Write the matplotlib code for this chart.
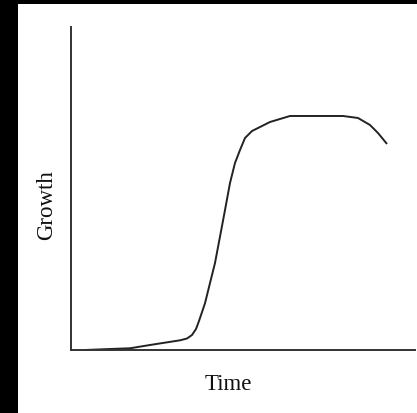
import matplotlib
matplotlib.use("Agg")
import matplotlib.pyplot as plt
from matplotlib.patches import Rectangle

# Data (time and growth in arbitrary units, 0-100)
time = [4.07, 11.34, 17.15, 22.97, 31.69, 33.72, 35.17, 36.34, 37.21, 38.95,
        40.41, 41.86, 43.31, 44.77, 46.22, 47.67, 49.13, 50.58, 52.62, 57.85,
        63.66, 79.07, 83.43, 86.92, 89.24, 91.86]
growth = [0.0, 0.31, 0.53, 1.55, 3.0, 3.56, 4.64, 6.50, 8.98, 14.46,
          20.74, 26.93, 35.08, 43.34, 51.70, 57.89, 61.92, 65.63, 67.80, 70.59,
          72.45, 72.45, 71.83, 69.66, 67.18, 63.78]
x_label = "Time"
y_label = "Growth"

W, H = 417, 413
fig = plt.figure(figsize=(W / 100, H / 100), dpi=100, facecolor="black")
bg = Rectangle((18 / W, 0), 1 - 18 / W, 1 - 4 / H,
               transform=fig.transFigure, facecolor="white",
               edgecolor="none", zorder=-10)
fig.patches.append(bg)

ax = fig.add_axes([71 / W, 63 / H, 344 / W, 323 / H])
ax.set_zorder(5)
ax.set_facecolor("none")
ax.plot(time, growth, color="#222222", lw=1.4, solid_capstyle="butt",
        solid_joinstyle="round")
ax.set_xlim(0, 100)
ax.set_ylim(0, 100)
for s in ["top", "right"]:
    ax.spines[s].set_visible(False)
for s in ["left", "bottom"]:
    ax.spines[s].set_color("#333333")
    ax.spines[s].set_linewidth(1.4)
ax.set_xticks([])
ax.set_yticks([])

fig.text(228 / W, 1 - 384 / H, x_label, ha="center", va="center",
         family="Liberation Serif", fontsize=16.5, color="#111111", zorder=6)
fig.text(47 / W, 1 - 205 / H, y_label, ha="center", va="center", rotation=90,
         family="Liberation Serif", fontsize=16.5, color="#111111", zorder=6)

fig.savefig("out.png", dpi=100, facecolor="black")
